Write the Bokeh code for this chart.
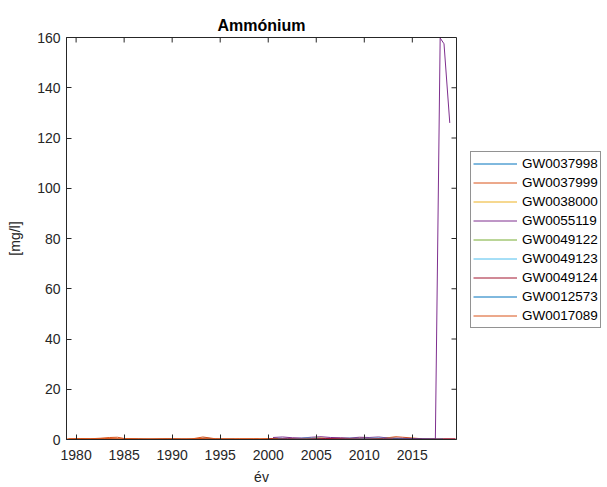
from bokeh.plotting import figure
from bokeh.layouts import row
from bokeh.models import Range1d, FixedTicker, Legend, LegendItem
from bokeh.embed import file_html
from bokeh.resources import INLINE

names = ["GW0037998", "GW0037999", "GW0038000", "GW0055119", "GW0049122",
         "GW0049123", "GW0049124", "GW0012573", "GW0017089"]
colors = ["#0072BD", "#D95319", "#EDB120", "#7E2F8E", "#77AC30",
          "#4DBEEE", "#A2142F", "#0072BD", "#D95319"]

x_ticks = [1980, 1985, 1990, 1995, 2000, 2005, 2010, 2015]
y_ticks = [0, 20, 40, 60, 80, 100, 120, 140, 160]

years_1 = [1985.5, 1986.5, 1987.5, 1988.5, 1989.5, 1990.5, 1991.5, 1992.5, 1993.5, 1994.5, 1995.5, 1996.5]
vals_1 = [0.3, 0.2, 0.1, 0.15, 0.3, 0.2, 0.1, 0.25, 0.6, 0.2, 0.1, 0.15]

years_2 = [1979.2, 1980.5, 1981.5, 1982.5, 1983.5, 1984.3, 1985.0, 1986.5, 1988.0, 1990.0, 1992.0,
           1993.2, 1994.5, 1996.5, 1998.5, 2000.5, 2002.5, 2004.5, 2006.5, 2008.5, 2010.5,
           2012.0, 2013.3, 2014.0, 2015.0, 2016.0]
vals_2 = [0.3, 0.4, 0.3, 0.5, 0.8, 0.9, 0.4, 0.3, 0.2, 0.3, 0.2,
          1.0, 0.3, 0.2, 0.3, 0.4, 0.3, 0.5, 0.4, 0.3, 0.4,
          0.5, 1.1, 0.9, 0.6, 0.3]

years_3 = [2004.5, 2005.5, 2006.5, 2007.5, 2008.5, 2009.5, 2010.5, 2011.5, 2012.5, 2013.5]
vals_3 = [0.4, 0.6, 0.3, 0.5, 0.4, 0.7, 0.5, 0.3, 0.8, 0.4]

years_4 = [2000.5, 2001.5, 2002.5, 2003.5, 2004.5, 2005.5, 2006.5, 2007.5, 2008.5, 2009.5,
           2010.5, 2011.5, 2012.5, 2017.4, 2017.9, 2018.3, 2018.9]
vals_4 = [0.8, 1.0, 0.7, 0.6, 0.9, 1.1, 0.8, 0.7, 0.6, 0.9,
          0.8, 1.0, 0.6, 0.2, 159.8, 157.5, 126.0]

years_5 = [2000.5, 2002.0, 2003.5, 2005.0, 2006.5, 2008.0, 2009.5, 2011.0, 2012.5]
vals_5 = [0.3, 0.4, 0.2, 0.5, 0.3, 0.4, 0.2, 0.3, 0.4]

years_6 = [2001.0, 2002.5, 2004.0, 2005.5, 2007.0, 2008.5, 2010.0, 2011.5, 2013.0]
vals_6 = [0.5, 0.3, 0.6, 0.4, 0.3, 0.5, 0.4, 0.6, 0.3]

years_7 = [2000.0, 2002.0, 2004.0, 2006.0, 2008.0, 2010.0, 2012.0, 2014.0, 2016.0, 2018.2, 2019.5]
vals_7 = [0.2, 0.3, 0.2, 0.4, 0.3, 0.2, 0.3, 0.2, 0.2, 0.3, 0.3]

years_8 = [2013.0, 2014.0, 2015.0, 2016.0, 2017.0, 2018.2]
vals_8 = [0.2, 0.15, 0.1, 0.1, 0.1, 0.1]

years_9 = [1979.0, 1981.0, 1983.0, 1985.0, 1987.0, 1989.0, 1991.0, 1993.0, 1995.0, 1997.0, 1999.0]
vals_9 = [0.2, 0.3, 0.4, 0.3, 0.2, 0.3, 0.2, 0.4, 0.2, 0.3, 0.2]

series_years = [years_1, years_2, years_3, years_4, years_5, years_6, years_7, years_8, years_9]
series_vals = [vals_1, vals_2, vals_3, vals_4, vals_5, vals_6, vals_7, vals_8, vals_9]

FONT = "Liberation Sans"
AX = "#262626"
X0, X1 = 1979.0, 2019.6
Y0, Y1 = 0, 160
FRAME_W, FRAME_H = 390, 403
TICK_PX = 5

p = figure(width=458, height=487, output_backend="svg", toolbar_location=None,
           x_range=Range1d(X0, X1), y_range=Range1d(Y0, Y1),
           min_border_left=66, min_border_right=2, min_border_top=37, min_border_bottom=47)
p.background_fill_color = "white"
p.border_fill_color = "white"
p.outline_line_color = AX
p.xgrid.visible = False
p.ygrid.visible = False

p.title.text = "Ammónium"
p.title.align = "center"
p.title.text_font = FONT
p.title.text_font_size = "16px"
p.title.text_font_style = "bold"
p.title.text_color = "#000000"
p.title.standoff = 8

for ax, ticks in ((p.xaxis[0], x_ticks), (p.yaxis[0], y_ticks)):
    ax.ticker = FixedTicker(ticks=ticks)
    ax.major_tick_in = TICK_PX
    ax.major_tick_out = 0
    ax.minor_tick_line_color = None
    ax.axis_line_color = AX
    ax.major_tick_line_color = AX
    ax.major_label_text_font = FONT
    ax.major_label_text_font_size = "14px"
    ax.major_label_text_color = AX
    ax.axis_label_text_font = FONT
    ax.axis_label_text_font_size = "14px"
    ax.axis_label_text_font_style = "normal"
    ax.axis_label_text_color = AX

p.xaxis.axis_label = "év"
p.yaxis.axis_label = "[mg/l]"
p.xaxis.major_label_standoff = 10
p.xaxis.axis_label_standoff = 6
p.yaxis.major_label_standoff = 6
p.yaxis.axis_label_standoff = 11

# mirrored inner ticks on the top and right sides of the box
dy = TICK_PX * (Y1 - Y0) / FRAME_H
dx = TICK_PX * (X1 - X0) / FRAME_W
p.segment(x0=x_ticks, x1=x_ticks, y0=[Y1] * len(x_ticks), y1=[Y1 - dy] * len(x_ticks),
          line_color=AX, line_width=1)
p.segment(x0=[X1] * len(y_ticks), x1=[X1 - dx] * len(y_ticks), y0=y_ticks, y1=y_ticks,
          line_color=AX, line_width=1)

for col, xs, ys in zip(colors, series_years, series_vals):
    p.line(xs, ys, line_color=col, line_width=1)

# legend panel to the right of the axes (its own renderers lie outside its view)
lg = figure(width=149, height=487, output_backend="svg", toolbar_location=None,
            x_range=Range1d(0, 1), y_range=Range1d(0, 1),
            x_axis_location=None, y_axis_location=None,
            min_border_left=0, min_border_right=0, min_border_top=0, min_border_bottom=0)
lg.outline_line_color = None
lg.xgrid.visible = False
lg.ygrid.visible = False
items = []
for name, col, xs, ys in zip(names, colors, series_years, series_vals):
    r = lg.line(xs, ys, line_color=col, line_width=1)
    items.append(LegendItem(label=name, renderers=[r]))

legend = Legend(items=items, location=(12, 111))
legend.label_text_font = FONT
legend.label_text_font_size = "13.5px"
legend.label_text_color = "#000000"
legend.glyph_width = 44
legend.glyph_height = 19
legend.label_height = 19
legend.label_standoff = 5
legend.spacing = 0
legend.padding = 2
legend.margin = 0
legend.border_line_color = AX
legend.border_line_width = 1
legend.background_fill_color = "white"
legend.background_fill_alpha = 1
lg.add_layout(legend, "center")

layout = row(p, lg)
open("out.html", "w").write(file_html(layout, INLINE))
